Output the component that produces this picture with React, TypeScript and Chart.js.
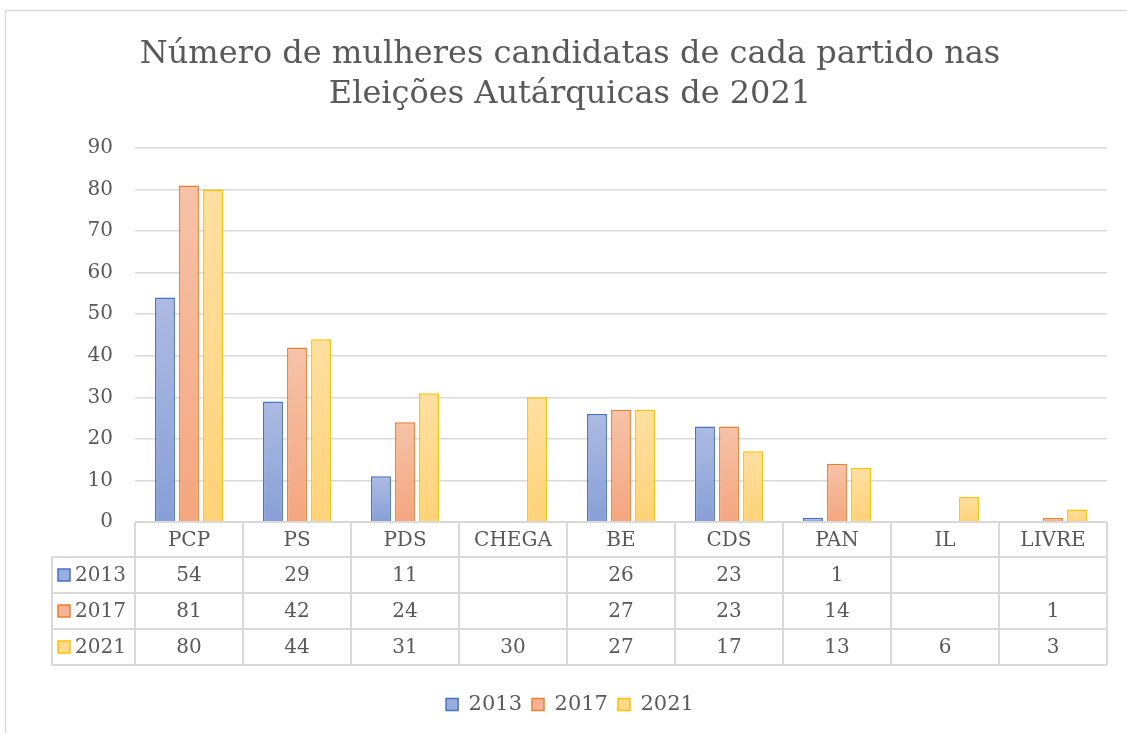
import React, { useEffect, useRef } from 'react';
import { Chart, registerables } from 'chart.js';

Chart.register(...registerables);

// ---------- data ----------
const categories = ['PCP', 'PS', 'PDS', 'CHEGA', 'BE', 'CDS', 'PAN', 'IL', 'LIVRE'];
const seriesLabels = ['2013', '2017', '2021'];
const values2013 = [54, 29, 11, null, 26, 23, 1, null, null];
const values2017 = [81, 42, 24, null, 27, 23, 14, null, 1];
const values2021 = [80, 44, 31, 30, 27, 17, 13, 6, 3];
const titleLines = ['Número de mulheres candidatas de cada partido nas', 'Eleições Autárquicas de 2021'];
const yMin = 0;
const yMax = 90;
const yStep = 10;

// ---------- styles ----------
const FONT = "'DejaVu Serif', 'Liberation Serif', serif";
const TEXT = '#595959';
const GRID = '#d9d9d9';
const borderColors = ['#4472c4', '#ed7d31', '#ffc000'];
const gradTop = ['#adbbe2', '#f6c2a8', '#ffdfa2'];
const gradBottom = ['#889fd6', '#f4a67f', '#ffd278'];
const legendFill = ['#9aade0', '#f5b294', '#ffd98c'];

const W = 1127;
const H = 733;
const PLOT_BOTTOM = 522;
const PAD_LEFT = 33;
const PAD_RIGHT = 20;
const PAD_BOTTOM = 8;
const TABLE_LEFT = 52;
const HEADER_H = 35;
const ROW_H = 36;

const allSeries = [values2013, values2017, values2021];

const framePlugin = {
  id: 'frame',
  beforeDraw(chart: any) {
    const { ctx } = chart;
    ctx.save();
    ctx.fillStyle = '#ffffff';
    ctx.fillRect(0, 0, chart.width, chart.height);
    ctx.strokeStyle = GRID;
    ctx.lineWidth = 1.5;
    ctx.strokeRect(5.5, 10.5, 1300, 900);
    ctx.restore();
  },
};

const tablePlugin = {
  id: 'dataTable',
  afterDraw(chart: any) {
    const { ctx, chartArea } = chart;
    const xScale = chart.scales.x;
    const n = categories.length;
    const colW = (chartArea.right - chartArea.left) / n;
    const top = chartArea.bottom;
    const bottom = top + HEADER_H + ROW_H * allSeries.length;
    ctx.save();
    ctx.strokeStyle = GRID;
    ctx.lineWidth = 2;
    const line = (x1: number, y1: number, x2: number, y2: number) => {
      ctx.beginPath();
      ctx.moveTo(x1, y1);
      ctx.lineTo(x2, y2);
      ctx.stroke();
    };
    line(chartArea.left, top, chartArea.right, top);
    for (let r = 0; r <= allSeries.length; r++) {
      const y = top + HEADER_H + r * ROW_H;
      line(TABLE_LEFT, y, chartArea.right, y);
    }
    for (let i = 0; i <= n; i++) {
      const x = chartArea.left + i * colW;
      line(x, top, x, bottom);
    }
    line(TABLE_LEFT, top + HEADER_H, TABLE_LEFT, bottom);

    ctx.fillStyle = TEXT;
    ctx.font = `20px ${FONT}`;
    ctx.textAlign = 'center';
    ctx.textBaseline = 'middle';
    categories.forEach((c, i) => {
      ctx.fillText(c, xScale.getPixelForValue(i), top + HEADER_H / 2 + 1);
    });
    allSeries.forEach((vals, r) => {
      const yc = top + HEADER_H + r * ROW_H + ROW_H / 2 + 1;
      vals.forEach((v, i) => {
        if (v !== null && v !== undefined) {
          ctx.fillText(String(v), xScale.getPixelForValue(i), yc);
        }
      });
      // row label with key
      ctx.fillStyle = legendFill[r];
      ctx.fillRect(58, yc - 7, 12, 12);
      ctx.strokeStyle = borderColors[r];
      ctx.lineWidth = 1.5;
      ctx.strokeRect(58, yc - 7, 12, 12);
      ctx.fillStyle = TEXT;
      ctx.textAlign = 'left';
      ctx.fillText(seriesLabels[r], 75, yc);
      ctx.textAlign = 'center';
    });
    ctx.restore();
  },
};

function makeGradient(i: number) {
  return (c: any) => {
    const chart = c.chart;
    const { chartArea, scales } = chart;
    if (!chartArea || !scales || !scales.y || c.type !== 'data' || c.raw == null) return legendFill[i];
    const yTop = scales.y.getPixelForValue(c.raw);
    const yBot = scales.y.getPixelForValue(0);
    if (!isFinite(yTop) || !isFinite(yBot) || yTop === yBot) return gradBottom[i];
    const g = chart.ctx.createLinearGradient(0, yTop, 0, yBot);
    g.addColorStop(0, gradTop[i]);
    g.addColorStop(1, gradBottom[i]);
    return g;
  };
}

export default function App() {
  const ref = useRef<HTMLCanvasElement | null>(null);

  useEffect(() => {
    if (!ref.current) return;
    Chart.defaults.font.family = FONT;
    Chart.defaults.color = TEXT;
    const chart = new Chart(ref.current, {
      type: 'bar',
      data: {
        labels: categories,
        datasets: allSeries.map((vals, i) => ({
          label: seriesLabels[i],
          data: vals,
          backgroundColor: makeGradient(i),
          borderColor: borderColors[i],
          borderWidth: 1.5,
          categoryPercentage: 0.667,
          barPercentage: 0.83,
        })),
      },
      options: {
        responsive: false,
        animation: false,
        layout: { padding: { left: PAD_LEFT, right: PAD_RIGHT, top: 0, bottom: PAD_BOTTOM } },
        plugins: {
          title: {
            display: true,
            text: titleLines,
            color: TEXT,
            font: { size: 32, weight: 'normal', lineHeight: '40px' } as any,
            padding: { top: 35, bottom: 33 },
          },
          legend: {
            display: true,
            position: 'bottom',
            labels: {
              color: TEXT,
              font: { size: 21 },
              boxWidth: 12,
              boxHeight: 12,
              padding: 10,
              generateLabels: () =>
                seriesLabels.map((s, i) => ({
                  text: s,
                  fillStyle: legendFill[i],
                  strokeStyle: borderColors[i],
                  lineWidth: 1.5,
                  fontColor: TEXT,
                  datasetIndex: i,
                  hidden: false,
                })),
            },
          },
          tooltip: { enabled: false },
        },
        scales: {
          x: {
            grid: { display: false },
            border: { display: false },
            ticks: { display: false },
            afterFit: (scale: any) => {
              const legendH = scale.chart.legend ? scale.chart.legend.height : 0;
              scale.height = scale.chart.height - PAD_BOTTOM - legendH - PLOT_BOTTOM;
            },
          },
          y: {
            min: yMin,
            max: yMax,
            ticks: { stepSize: yStep, color: TEXT, font: { size: 20 }, padding: 22 },
            grid: { color: GRID, lineWidth: 1.5, drawTicks: false },
            border: { display: false },
            afterFit: (scale: any) => {
              scale.width = 135 - PAD_LEFT;
            },
          },
        },
      },
      plugins: [framePlugin, tablePlugin],
    });
    return () => chart.destroy();
  }, []);

  return (
    <div style={{ position: 'absolute', left: 0, top: 0, width: W, height: H }}>
      <canvas ref={ref} width={W} height={H} style={{ display: 'block' }} />
    </div>
  );
}
